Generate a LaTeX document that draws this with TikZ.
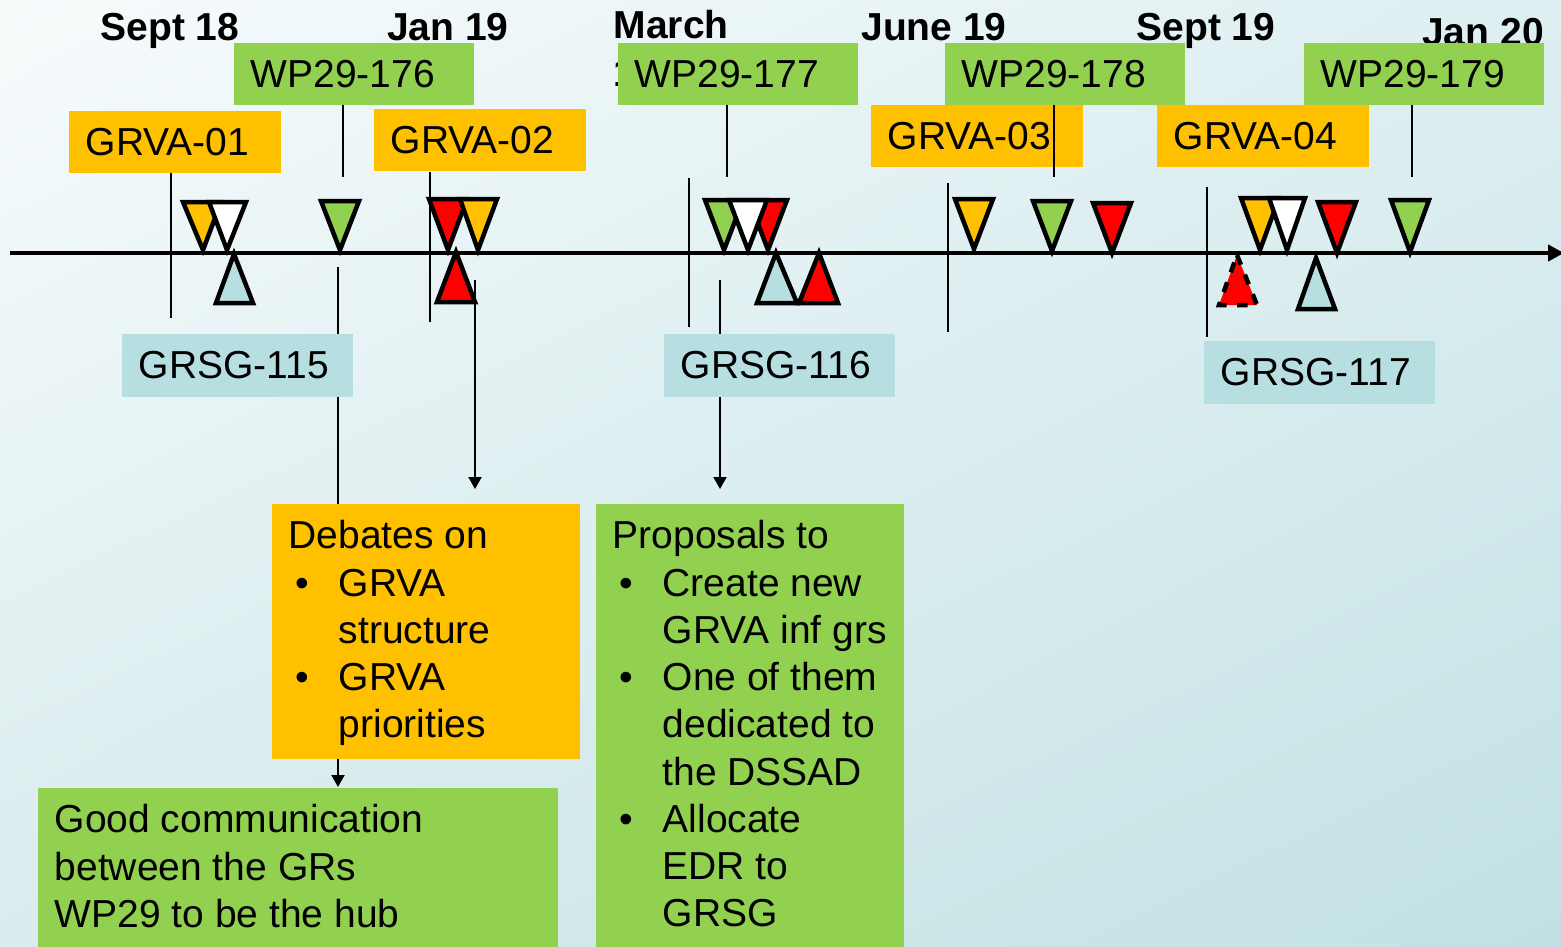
\documentclass[tikz,border=0pt]{standalone}
\usepackage{fontspec}
\setmainfont{Liberation Sans}
\usetikzlibrary{positioning}
\usetikzlibrary{arrows.meta}
\usetikzlibrary{backgrounds}
\usetikzlibrary{shadings}

\definecolor{grvaorange}{RGB}{255,192,0}
\definecolor{wpgreen}{RGB}{146,208,80}
\definecolor{grsgblue}{RGB}{183,222,225}
\definecolor{bgtl}{RGB}{247,251,252}
\definecolor{bgtr}{RGB}{222,239,241}
\definecolor{bgbl}{RGB}{218,236,238}
\definecolor{bgbr}{RGB}{194,225,228}

\newcommand{\slidefont}{\fontsize{11.1pt}{13.45pt}\selectfont}
\newcommand{\itembul}{\makebox[5mm][l]{\hspace{0.7mm}\textbullet}}
\newcommand{\itemind}{\hspace*{5mm}}

\tikzset{
	datelbl/.style={font=\slidefont\bfseries, inner sep=0pt},
	mtgbox/.style={anchor=north west, inner xsep=1.7mm, inner ysep=0pt, minimum height=6.2mm, align=left, font=\slidefont},
	wpbox/.style={mtgbox, fill=wpgreen, text width=20.6mm},
	grvabox/.style={mtgbox, fill=grvaorange, text width=17.8mm},
	grsgbox/.style={mtgbox, fill=grsgblue, text width=19.7mm, minimum height=6.3mm},
	notebox/.style={anchor=north west, inner xsep=1.7mm, inner ysep=0pt, font=\slidefont},
	tri/.style={draw=black, line width=0.45mm, line join=miter},
	marker/.style={line width=0.23mm},
	conn/.style={line width=0.2mm},
	arr/.style={line width=0.2mm, -{Triangle[length=1.2mm, width=1.3mm]}},
}

\begin{document}
\begin{tikzpicture}[x=0.1mm, y=-0.1mm]
	\useasboundingbox (0,0) rectangle (1561,946);
	\begin{scope}[on background layer]
		\shade[upper left=bgtl, upper right=bgtr, lower left=bgbl, lower right=bgbr] (0,0) rectangle (1561,946);
	\end{scope}
	
	% dates
	\node[datelbl, anchor=base] (sep18) at (170,40) {Sept 18};
	\node[datelbl, anchor=base] (jan19) at (448,40) {Jan 19};
	\node[datelbl, anchor=north west, align=left] (mar19) at (613,10) {March\\19};
	\node[datelbl, anchor=base] (jun19) at (934,40) {June 19};
	\node[datelbl, anchor=base] (sep19) at (1206,40) {Sept 19};
	\node[datelbl, anchor=base] (jan20) at (1483,45) {Jan 20};
	
	% month markers
	\draw[marker] (171,173) -- (171,318);
	\draw[marker] (430,172) -- (430,322);
	\draw[marker] (689,178) -- (689,327);
	\draw[marker] (948,183) -- (948,332);
	\draw[marker] (1207,187) -- (1207,337);
	
	% meetings
	\node[wpbox] (wp176) at (233,42) {WP29-176};
	\node[wpbox] (wp177) at (617,42) {WP29-177};
	\node[wpbox] (wp178) at (944,42) {WP29-178};
	\node[wpbox] (wp179) at (1303,42) {WP29-179};
	\node[grvabox] (grva01) at (68,110) {GRVA-01};
	\node[grvabox] (grva02) at (373,108) {GRVA-02};
	\node[grvabox] (grva03) at (870,104) {GRVA-03};
	\node[grvabox] (grva04) at (1156,104) {GRVA-04};
	\node[grsgbox] (grsg115) at (121,333) {GRSG-115};
	\node[grsgbox] (grsg116) at (663,333) {GRSG-116};
	\node[grsgbox] (grsg117) at (1203,340) {GRSG-117};
	
	% notes
	\node[notebox, fill=grvaorange] (debates) at (271,503) {\begin{minipage}[t][25.5mm][t]{27.4mm}\vspace*{1.2mm}\begin{tabular}[t]{@{}l@{}}
		Debates on\\
		\itembul GRVA\\
		\itemind structure\\
		\itembul GRVA\\
		\itemind priorities
	\end{tabular}\end{minipage}};
	\node[notebox, fill=wpgreen] (proposals) at (595,503) {\begin{minipage}[t][44.3mm][t]{27.4mm}\vspace*{1.2mm}\begin{tabular}[t]{@{}l@{}}
		Proposals to\\
		\itembul Create new\\
		\itemind GRVA inf grs\\
		\itembul One of them\\
		\itemind dedicated to\\
		\itemind the DSSAD\\
		\itembul Allocate\\
		\itemind EDR to\\
		\itemind GRSG
	\end{tabular}\end{minipage}};
	\node[notebox, fill=wpgreen] (goodcomm) at (37,787) {\begin{minipage}[t][15.9mm][t]{48.6mm}\vspace*{1.2mm}\begin{tabular}[t]{@{}l@{}}
		Good communication\\
		between the GRs\\
		WP29 to be the hub
	\end{tabular}\end{minipage}};
	
	% WP29 links
	\coordinate (c176) at (343,177);
	\coordinate (c177) at (727,177);
	\coordinate (c178) at (1054,177);
	\coordinate (c179) at (1412,177);
	\draw[conn] (wp176.south -| c176) -- (c176);
	\draw[conn] (wp177.south -| c177) -- (c177);
	\draw[conn] (wp178.south -| c178) -- (c178);
	\draw[conn] (wp179.south -| c179) -- (c179);
	
	% links to the notes
	\coordinate (s115) at (338,267);
	\coordinate (r02) at (475,280);
	\coordinate (s116) at (720,280);
	\begin{scope}[on background layer]
		\draw[arr] (s115) -- (s115 |- goodcomm.north);
		\draw[arr, shorten >=1.4mm] (r02) -- (r02 |- debates.north);
		\draw[arr, shorten >=1.4mm] (s116) -- (s116 |- proposals.north);
	\end{scope}
	
	% time axis
	\coordinate (axl) at (10,253);
	\coordinate (axr) at (1564,253);
	\draw[line width=0.45mm, -{Triangle[length=1.6mm, width=1.6mm]}] (axl) -- (axr);
	
	% meetings above the axis
	\draw[tri, fill=grvaorange] (183,202) -- (221,202) -- (203,250) -- cycle;
	\draw[tri, fill=white] (209,202) -- (246,202) -- (227,250) -- cycle;
	\draw[tri, fill=wpgreen] (321,201) -- (359,201) -- (340,250) -- cycle;
	\draw[tri, fill=red] (429,199) -- (467,199) -- (448,250) -- cycle;
	\draw[tri, fill=grvaorange] (460,199) -- (497,199) -- (478,250) -- cycle;
	\draw[tri, fill=wpgreen] (705,200) -- (743,200) -- (724,250) -- cycle;
	\draw[tri, fill=red] (749,200) -- (787,200) -- (768,250) -- cycle;
	\draw[tri, fill=white] (729,200) -- (767,200) -- (748,250) -- cycle;
	\draw[tri, fill=grvaorange] (955,199) -- (993,199) -- (974,249) -- cycle;
	\draw[tri, fill=wpgreen] (1033,201) -- (1071,201) -- (1052,251) -- cycle;
	\draw[tri, fill=red] (1093,203) -- (1131,203) -- (1112,253) -- cycle;
	\draw[tri, fill=grvaorange] (1241,198) -- (1279,198) -- (1260,250) -- cycle;
	\draw[tri, fill=white] (1269,198) -- (1305,198) -- (1287,250) -- cycle;
	\draw[tri, fill=red] (1318,202) -- (1356,202) -- (1337,253) -- cycle;
	\draw[tri, fill=wpgreen] (1391,200) -- (1429,200) -- (1410,252) -- cycle;
	
	% meetings below the axis
	\draw[tri, fill=grsgblue] (234,254) -- (253,303) -- (216,303) -- cycle;
	\draw[tri, fill=red] (456,252) -- (475,302) -- (437,302) -- cycle;
	\draw[tri, fill=grsgblue] (776,253) -- (797,303) -- (757,303) -- cycle;
	\draw[tri, fill=red] (819,253) -- (838,303) -- (799,303) -- cycle;
	\draw[tri, fill=red, dashed] (1237,255) -- (1257,305) -- (1219,305) -- cycle;
	\draw[tri, fill=grsgblue] (1316,258) -- (1335,309) -- (1298,309) -- cycle;
\end{tikzpicture}
\end{document}
